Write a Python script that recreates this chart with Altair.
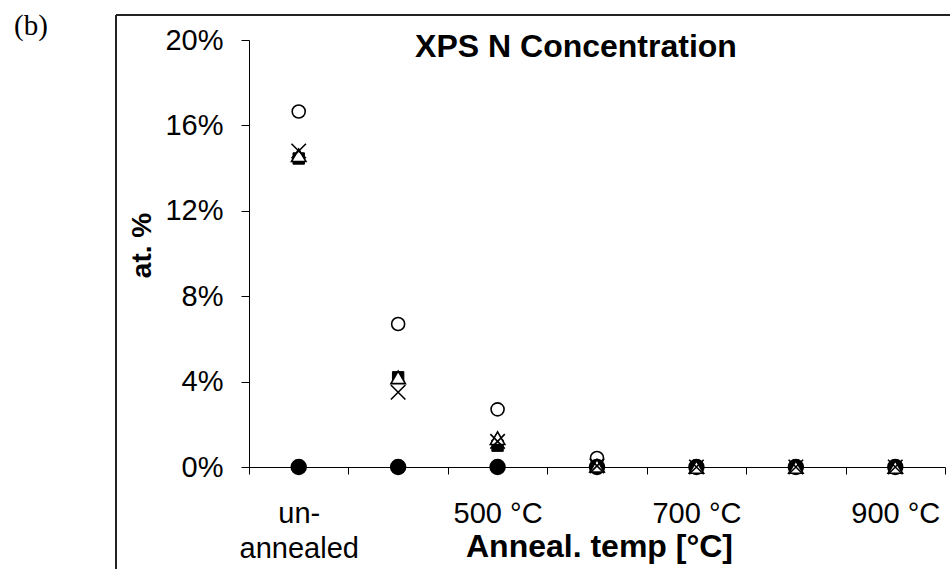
import altair as alt
import pandas as pd

# Annealing steps (x categories) and which of them carry a visible label
categories = ["un-annealed", "400 °C", "500 °C", "600 °C", "700 °C", "800 °C", "900 °C"]
shown_labels = ["un-annealed", "500 °C", "700 °C", "900 °C"]
y_ticks = [0, 4, 8, 12, 16, 20]

# Nitrogen concentration (at. %) per sample series
open_circle = [16.65, 6.7, 2.7, 0.42, 0.03, 0.03, 0.03]
cross = [14.8, 3.5, 1.2, 0.05, 0.0, 0.0, 0.0]
triangle = [14.6, 4.2, 1.35, 0.06, 0.0, 0.0, 0.0]
square = [14.45, 4.2, 1.0, 0.04, 0.0, 0.0, 0.0]
filled_circle = [0.0, 0.0, 0.0, 0.0, 0.0, 0.0, 0.0]

series = {
    "A": open_circle,
    "B": cross,
    "C": triangle,
    "D": square,
    "E": filled_circle,
}
rows = []
for name, vals in series.items():
    for cat, v in zip(categories, vals):
        rows.append({"series": name, "step": cat, "value": v})
df = pd.DataFrame(rows)

W, H = 696, 427
FONT = "Liberation Sans"

label_expr = (
    "datum.value == 'un-annealed' ? ['un-', 'annealed'] : "
    "(indexof(" + str(shown_labels) + ", datum.value) >= 0 ? datum.value : '')"
)

x_enc = alt.X(
    "step:N",
    sort=categories,
    scale=alt.Scale(domain=categories, paddingInner=0, paddingOuter=0),
    axis=alt.Axis(
        title="Anneal. temp [°C]",
        titleFont=FONT,
        titleFontSize=32,
        titleFontWeight="bold",
        titleColor="black",
        titleY=79,
        titleX=350,
        titleBaseline="middle",
        labelExpr=label_expr,
        labelFont=FONT,
        labelFontSize=29,
        labelColor="black",
        labelAngle=0,
        labelBaseline="top",
        labelPadding=25,
        labelLineHeight=35,
        labelOverlap=False,
        tickBand="extent",
        tickSize=7,
        tickColor="black",
        domainColor="black",
        grid=False,
    ),
)
y_enc = alt.Y(
    "value:Q",
    scale=alt.Scale(domain=[0, 20], nice=False, zero=True),
    axis=alt.Axis(
        title="at. %",
        titleFont=FONT,
        titleFontSize=28,
        titleFontWeight="bold",
        titleColor="black",
        titleX=-107,
        titleY=205,
        titleBaseline="middle",
        values=y_ticks,
        labelExpr="datum.value + '%'",
        labelFont=FONT,
        labelFontSize=29,
        labelColor="black",
        labelPadding=18,
        tickSize=8,
        tickColor="black",
        domainColor="black",
        grid=False,
    ),
)

base = alt.Chart(df)

def series_layer(name, **mark):
    return base.transform_filter(alt.datum.series == name).mark_point(**mark).encode(
        x=x_enc, y=y_enc
    )

filled = series_layer("E", shape="circle", filled=True, fill="black", stroke="black",
                      size=210, opacity=1)
hollow = series_layer("A", shape="circle", filled=False, stroke="black",
                      strokeWidth=1.6, size=170, opacity=1)
sq = series_layer("D", shape="square", filled=True, fill="black", stroke="black",
                  strokeWidth=1, size=130, opacity=1)
tri = series_layer("C", shape="triangle-up", filled=True, fill="white", stroke="black",
                   strokeWidth=1.6, size=210, opacity=1)
xs = series_layer("B", shape="M-1,-1L1,1M-1,1L1,-1", filled=False, stroke="black",
                  strokeWidth=1.6, size=210, opacity=1)

one = pd.DataFrame({"k": [0]})
title = alt.Chart(one).mark_text(
    text="XPS N Concentration", font=FONT, fontSize=32, fontWeight="bold",
    color="black", align="center", baseline="middle"
).encode(x=alt.value(327), y=alt.value(7))

panel_tag = alt.Chart(one).mark_text(
    text="(b)", font="Liberation Serif", fontSize=29, color="black",
    align="left", baseline="middle"
).encode(x=alt.value(-235), y=alt.value(-14))

frame_left = alt.Chart(one).mark_rule(color="#222222", strokeWidth=2).encode(
    x=alt.value(-133), y=alt.value(-25), y2=alt.value(700)
)
frame_top = alt.Chart(one).mark_rule(color="#222222", strokeWidth=2).encode(
    x=alt.value(-133), x2=alt.value(900), y=alt.value(-25)
)

chart = (
    alt.layer(filled, hollow, sq, tri, xs, title, panel_tag, frame_left, frame_top)
    .properties(
        width=W,
        height=H,
        autosize=alt.AutoSizeParams(type="none"),
        padding={"left": 249, "top": 40, "right": 5, "bottom": 102},
        background="white",
    )
    .configure_view(stroke=None)
)

chart.save("out.html", embed_options={"renderer": "svg", "actions": False})
